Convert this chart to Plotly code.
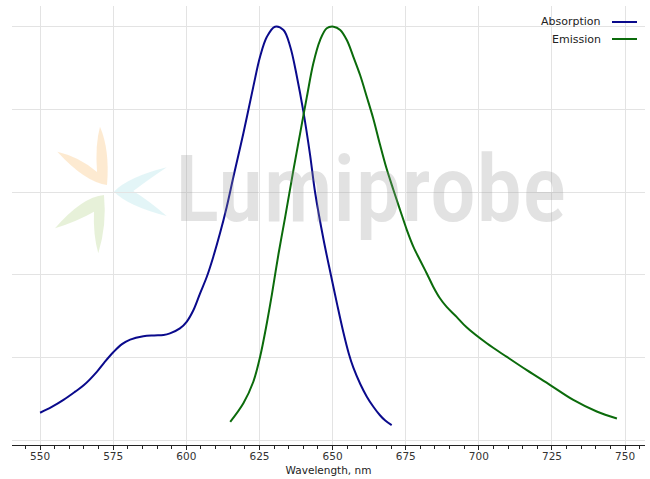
import plotly.graph_objects as go

# ---- data ----
abs_nm = [550, 554, 558, 562, 565, 569.4, 572, 575.1, 578, 580.8, 585.3, 589, 592.2, 594.4, 597.8,
          600.1, 602.4, 604.7, 607.0, 609.2, 611.5, 613.8, 616.1, 619.5, 622.9, 625.2, 627.5, 630.3,
          633.2, 635.5, 637.8, 640.0, 642.3, 644.0, 646.9, 649.4, 651.5, 653.7, 655.5, 657.1, 659.5,
          661.7, 664.0, 666.2, 668.0, 670.2]
abs_val = [0.066, 0.080, 0.097, 0.117, 0.133, 0.165, 0.188, 0.213, 0.232, 0.243, 0.251, 0.253, 0.254,
           0.258, 0.270, 0.286, 0.314, 0.355, 0.395, 0.443, 0.500, 0.564, 0.637, 0.742, 0.855, 0.927,
           0.975, 1.000, 0.992, 0.952, 0.879, 0.795, 0.690, 0.600, 0.485, 0.400, 0.330, 0.260, 0.210,
           0.175, 0.135, 0.105, 0.080, 0.060, 0.047, 0.036]

em_nm = [615.0, 619.5, 622.9, 625.2, 627.5, 629.2, 631.5, 633.8, 636.6, 638.9, 641.2, 643.4, 645.7,
         648.0, 650.3, 652.6, 654.9, 657.1, 659.4, 661.7, 663.9, 666.2, 668.4, 670.8, 673.1, 675.4,
         677.6, 679.9, 682.2, 684.4, 686.7, 689.0, 692.4, 695.9, 702.7, 709.6, 716.4, 724.4, 732.3,
         740.3, 747.2]
em_val = [0.044, 0.089, 0.141, 0.201, 0.282, 0.350, 0.450, 0.540, 0.653, 0.742, 0.830, 0.911, 0.967,
          0.996, 1.000, 0.992, 0.967, 0.927, 0.883, 0.830, 0.778, 0.715, 0.658, 0.605, 0.556, 0.508,
          0.468, 0.435, 0.403, 0.371, 0.343, 0.322, 0.298, 0.272, 0.234, 0.201, 0.169, 0.133, 0.097,
          0.069, 0.052]

series_names = ["Absorption", "Emission"]
series_colors = ["#0a0a8c", "#0b6b0b"]
x_ticks = [550, 575, 600, 625, 650, 675, 700, 725, 750]

W, H = 650, 479
L, R, T, B = 12, 5, 6, 34


def px(x, y):
    """pixel -> paper coordinates (decorations only)"""
    return (x - L) / (W - L - R), (H - B - y) / (H - T - B)


def path(cmds):
    out = []
    for c in cmds:
        s = c[0]
        for (x, y) in c[1:]:
            a, b = px(x, y)
            s += f" {a:.4f},{b:.4f}"
        out.append(s)
    return " ".join(out) + " Z"


fig = go.Figure()
fig.add_trace(go.Scatter(x=abs_nm, y=abs_val, mode="lines", name=series_names[0],
                         line=dict(color=series_colors[0], width=2, shape="spline", smoothing=1.0),
                         showlegend=False))
fig.add_trace(go.Scatter(x=em_nm, y=em_val, mode="lines", name=series_names[1],
                         line=dict(color=series_colors[1], width=2, shape="spline", smoothing=1.0),
                         showlegend=False))

# logo petals (watermark)
petals = [
    ([("M", (100, 126.7)), ("Q", (110, 150), (107, 185)), ("Q", (85, 182), (57.3, 151.7)),
      ("Q", (80, 157), (97, 172)), ("Q", (95, 145), (100, 126.7))], "rgba(253,232,204,0.9)"),
    ([("M", (98.3, 253.3)), ("Q", (107, 225), (104, 195)), ("Q", (82, 197), (55, 228.3)),
      ("Q", (78, 221), (94, 211.7)), ("Q", (93, 235), (98.3, 253.3))], "rgba(228,240,213,0.9)"),
    ([("M", (166.7, 167.3)), ("Q", (128, 177), (114, 191.7)), ("Q", (128, 206), (166.7, 216)),
      ("Q", (148, 200), (133.3, 191)), ("Q", (148, 180), (166.7, 167.3))], "rgba(224,244,246,0.9)"),
]
for cmds, col in petals:
    fig.add_shape(type="path", xref="paper", yref="paper", path=path(cmds),
                  fillcolor=col, line=dict(width=0), layer="below")

# watermark text
wx, wy = px(370, 189)
fig.add_annotation(text="Lumiprobe", xref="paper", yref="paper", x=wx, y=wy,
                   xanchor="center", yanchor="middle", showarrow=False,
                   font=dict(family="Roboto Condensed, Noto Sans ExtraCondensed, Noto Sans Condensed, "
                                    "Open Sans Condensed, DejaVu Sans Condensed, sans-serif",
                             size=93, weight=500, color="rgba(150,150,150,0.28)"))

# legend drawn manually (text left of line sample)
for i, (name, col) in enumerate(zip(series_names, series_colors)):
    yy = 22 + i * 17
    tx, ty = px(603, yy)
    fig.add_annotation(text=name, xref="paper", yref="paper", x=tx, y=ty,
                       xanchor="right", yanchor="middle", showarrow=False,
                       font=dict(family="DejaVu Sans", size=11, color="#222222"))
    x0, y0 = px(612, yy)
    x1, _ = px(637, yy)
    fig.add_shape(type="line", xref="paper", yref="paper", x0=x0, x1=x1, y0=y0, y1=y0,
                  line=dict(color=col, width=2))

fig.update_layout(
    width=W, height=H,
    margin=dict(l=L, r=R, t=T, b=B, autoexpand=False),
    paper_bgcolor="white", plot_bgcolor="white",
    showlegend=False,
    font=dict(family="DejaVu Sans", size=10.5, color="#333333"),
)
fig.update_xaxes(range=[540.4, 756.8], tickvals=x_ticks, ticks="outside", ticklen=4,
                 tickcolor="#222222", showline=True, linecolor="#222222", linewidth=1,
                 showgrid=True, gridcolor="#e3e3e3", gridwidth=1, zeroline=False, automargin=False,
                 ticklabelstandoff=-3,
                 minor=dict(dtick=5, tick0=550, ticks="outside", ticklen=3, tickcolor="#222222",
                            showgrid=False),
                 title=dict(text="Wavelength, nm", standoff=6, font=dict(size=10.5, color="#222222")),
                 tickfont=dict(size=10.5, color="#333333"))
fig.update_yaxes(range=[-0.012, 1.05], tickvals=[0, 0.2, 0.4, 0.6, 0.8, 1.0], showticklabels=False,
                 ticks="", showgrid=True, gridcolor="#e3e3e3", gridwidth=1, zeroline=False,
                 showline=False, automargin=False)

fig.write_html("out.html", config={"displayModeBar": False},
               post_script="document.body.style.margin='0px';")
